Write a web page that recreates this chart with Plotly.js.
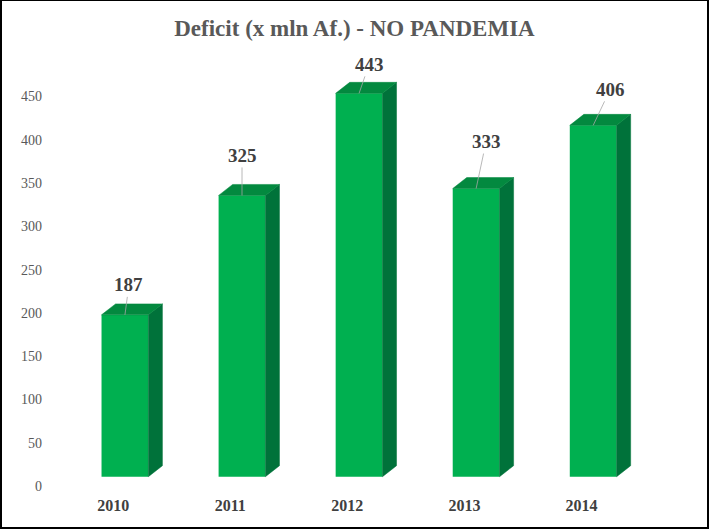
<!DOCTYPE html>
<html><head><meta charset="utf-8">
<script src="https://cdn.plot.ly/plotly-3.0.1.min.js"></script>
<style>
html,body{margin:0;padding:0;background:#fff}
#wrap{position:relative;width:709px;height:529px}
#chart{width:709px;height:529px}
#frame{position:absolute;left:0;top:0;right:0;bottom:0;box-sizing:border-box;
  border-style:solid;border-color:#000;border-width:1px 2px 2px 2px;pointer-events:none;z-index:10}
</style>
</head><body><div id="wrap"><div id="chart"></div><div id="frame"></div></div>
<script>
// ---- data ----
const years = ['2010', '2011', '2012', '2013', '2014'];
const deficit = [187, 325, 443, 333, 406];
const yTicks = [0, 50, 100, 150, 200, 250, 300, 350, 400, 450];

// ---- style (pixel offsets of the data labels, 3D depth) ----
const labelDx = [4, 0, 10, 10, 17];
const labelDy = [-30, -40, -29, -47, -36];
const BAR_W = 0.4, DEPTH_X = 0.12, DEPTH_Y = 12.7;
const FRONT = '#00B050', TOP = '#03893F', SIDE = '#00723A';

const idx = years.map((_, i) => i);

const sideX = [], sideY = [], topX = [], topY = [];
deficit.forEach((v, i) => {
  const l = i - BAR_W / 2, r = i + BAR_W / 2;
  sideX.push(r, r + DEPTH_X, r + DEPTH_X, r, r, null);
  sideY.push(0, DEPTH_Y, v + DEPTH_Y, v, 0, null);
  topX.push(l, l + DEPTH_X, r + DEPTH_X, r, l, null);
  topY.push(v, v + DEPTH_Y, v + DEPTH_Y, v, v, null);
});

const traces = [
  {type: 'bar', x: idx, y: deficit, width: BAR_W, marker: {color: FRONT, line: {width: 0}},
   hoverinfo: 'skip', showlegend: false},
  {type: 'scatter', mode: 'lines', x: sideX, y: sideY, fill: 'toself', fillcolor: SIDE,
   line: {color: SIDE, width: 0.5}, hoverinfo: 'skip', showlegend: false},
  {type: 'scatter', mode: 'lines', x: topX, y: topY, fill: 'toself', fillcolor: TOP,
   line: {color: TOP, width: 0.5}, hoverinfo: 'skip', showlegend: false},
  // invisible trace to activate y2 (tick labels)
  {type: 'scatter', mode: 'markers', x: [0], y: [0], yaxis: 'y2', marker: {opacity: 0},
   hoverinfo: 'skip', showlegend: false}
];

const serif = 'Liberation Serif, Times New Roman, serif';

const annotations = deficit.map((v, i) => ({
  x: i, y: v, xref: 'x', yref: 'y',
  text: String(v), showarrow: true, arrowhead: 0, arrowwidth: 0.8, arrowcolor: '#A6A6A6',
  ax: labelDx[i], ay: labelDy[i],
  font: {family: serif, size: 19, color: '#404040', weight: 'bold'}
}));

const layout = {
  width: 709, height: 529,
  margin: {l: 43, r: 28, t: 44, b: 35},
  paper_bgcolor: '#fff', plot_bgcolor: '#fff',
  title: {text: 'Deficit (x mln Af.) - NO PANDEMIA', xref: 'container', x: 0.5, xanchor: 'center',
          yref: 'container', y: 1 - 28 / 529, yanchor: 'middle',
          font: {family: serif, size: 23, color: '#595959', weight: 'bold'}},
  xaxis: {range: [-0.7, 4.75], tickvals: idx.map(i => i - 0.1), ticktext: years,
          showgrid: false, zeroline: false, showline: false, ticks: '',
          tickfont: {family: serif, size: 16, color: '#404040', weight: 'bold'}, fixedrange: true},
  yaxis: {range: [-20, 500], visible: false, showgrid: false, zeroline: false, fixedrange: true},
  yaxis2: {overlaying: 'y', side: 'left', range: [-9.24, 510.76], tickvals: yTicks,
           showgrid: false, zeroline: false, showline: false, ticks: '',
           tickfont: {family: serif, size: 14, color: '#595959'}, fixedrange: true},
  annotations: annotations,
  showlegend: false
};

Plotly.newPlot('chart', traces, layout, {displayModeBar: false, staticPlot: true});
</script>
</body></html>
